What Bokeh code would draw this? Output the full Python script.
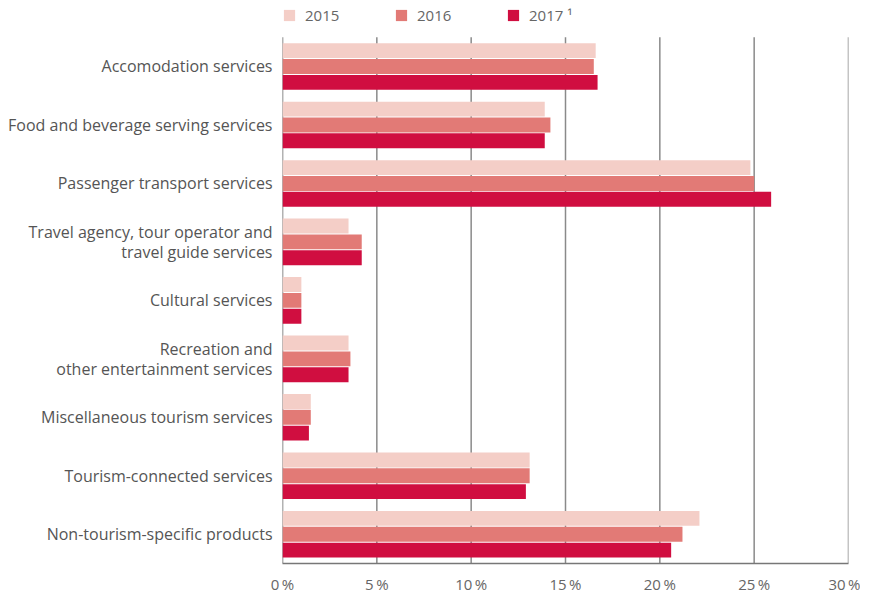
from bokeh.plotting import figure
from bokeh.models import Legend, LegendItem, FixedTicker, Range1d
from bokeh.transform import dodge
from bokeh.embed import file_html
from bokeh.resources import INLINE

categories = [
    "Accomodation services",
    "Food and beverage serving services",
    "Passenger transport services",
    "Travel agency, tour operator and\ntravel guide services",
    "Cultural services",
    "Recreation and\nother entertainment services",
    "Miscellaneous tourism services",
    "Tourism-connected services",
    "Non-tourism-specific products",
]
v2015 = [16.6, 13.9, 24.8, 3.5, 1.0, 3.5, 1.5, 13.1, 22.1]
v2016 = [16.5, 14.2, 25.0, 4.2, 1.0, 3.6, 1.5, 13.1, 21.2]
v2017 = [16.7, 13.9, 25.9, 4.2, 1.0, 3.5, 1.4, 12.9, 20.6]
series_names = ["2015", "2016", "2017 \u00b9"]
colors = ["#F4CEC7", "#E27A76", "#D00E40"]
x_ticks = [0, 5, 10, 15, 20, 25, 30]
x_tick_labels = ["0\u2009%", "5\u2009%", "10\u2009%", "15\u2009%", "20\u2009%", "25\u2009%", "30\u2009%"]

FONT = "Open Sans"
n = len(categories)
ypos = [n - 1 - i for i in range(n)]          # top category highest
y_lo, y_hi = -0.5, n - 0.5
legend_room = 0.543                           # extra space above bars for the legend

p = figure(
    width=860, height=596,
    y_range=Range1d(y_lo, y_hi + legend_room),
    x_range=Range1d(x_ticks[0], x_ticks[-1]),
    output_backend="svg", toolbar_location=None,
    min_border_left=282, min_border_right=12, min_border_top=5, min_border_bottom=29,
)
p.outline_line_color = None
p.background_fill_color = "white"

# grid lines and left axis line, drawn to stop at the top of the bar area
p.xgrid.grid_line_color = None
p.ygrid.grid_line_color = None
p.segment(x0=x_ticks[1:], x1=x_ticks[1:], y0=[y_lo] * (len(x_ticks) - 1), y1=[y_hi] * (len(x_ticks) - 1),
          line_color="#8a8a8a", line_width=1.5)
p.segment(x0=[x_ticks[0]], x1=[x_ticks[0]], y0=[y_lo], y1=[y_hi], line_color="#666666", line_width=1.5)

src = dict(y=ypos, v2015=v2015, v2016=v2016, v2017=v2017)
offsets = [0.271, 0.0, -0.271]
renderers = []
for key, off, col in zip(["v2015", "v2016", "v2017"], offsets, colors):
    r = p.hbar(y=dodge("y", off), right=key, left=0, height=0.255,
               source=src, fill_color=col, line_color=None)
    renderers.append(r)

# x axis
p.xaxis.ticker = FixedTicker(ticks=x_ticks)
p.xaxis.major_label_overrides = {t: l for t, l in zip(x_ticks, x_tick_labels)}
p.xaxis.axis_line_color = "#777777"
p.xaxis.axis_line_width = 1.5
p.xaxis.major_tick_out = 0
p.xaxis.major_tick_in = 0
p.xaxis.minor_tick_line_color = None
p.xaxis.major_label_text_font = FONT
p.xaxis.major_label_text_font_size = "15px"
p.xaxis.major_label_text_color = "#666666"
p.xaxis.major_label_standoff = 10

# y axis (category labels)
p.yaxis.ticker = FixedTicker(ticks=ypos)
p.yaxis.major_label_overrides = {y: c for y, c in zip(ypos, categories)}
p.yaxis.axis_line_color = None
p.yaxis.major_tick_line_color = None
p.yaxis.minor_tick_line_color = None
p.yaxis.major_label_text_font = FONT
p.yaxis.major_label_text_font_size = "16px"
p.yaxis.major_label_text_line_height = 0.92
p.yaxis.major_label_text_color = "#555555"
p.yaxis.major_label_standoff = 4
p.yaxis.major_label_text_align = "right"

legend = Legend(
    items=[LegendItem(label=s, renderers=[r]) for s, r in zip(series_names, renderers)],
    orientation="horizontal", location="top_left",
    margin=0, padding=0, spacing=49,
    glyph_width=14, glyph_height=14, label_standoff=9, label_width=40,
    label_text_font=FONT, label_text_font_size="15px", label_text_color="#666666",
    border_line_color=None, background_fill_alpha=0,
)
p.add_layout(legend, "center")

open("out.html", "w").write(file_html(p, INLINE))
